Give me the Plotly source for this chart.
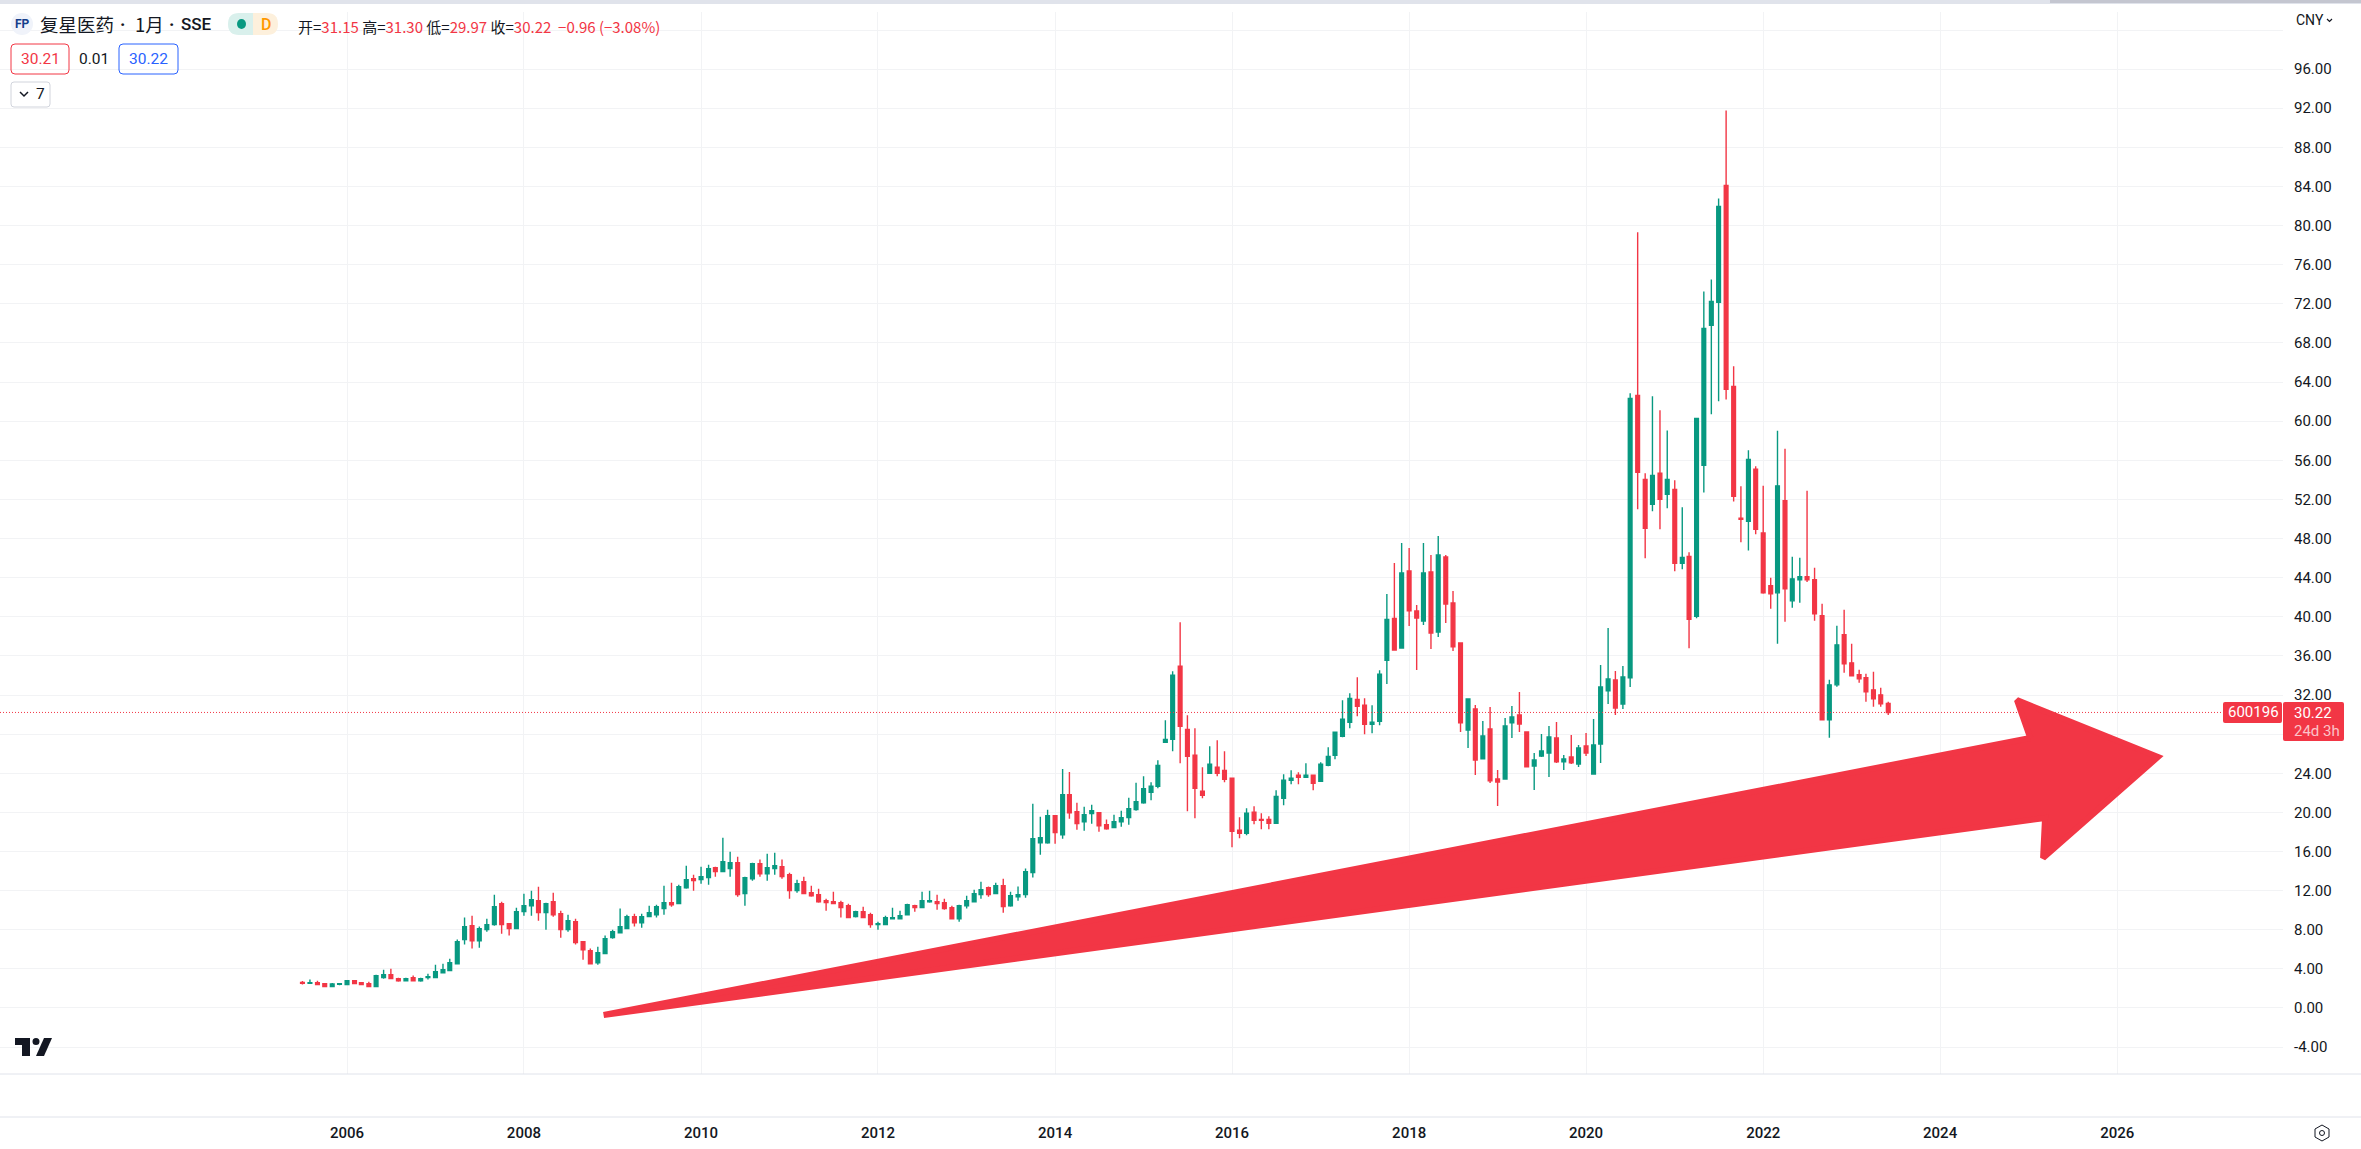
import pandas as pd
import plotly.graph_objects as go

# Monthly bars, Jul 2005 .. Jun 2023
months = pd.date_range("2005-07-01", periods=216, freq="MS")
open_ = [
 2.62,2.52,2.59,2.49,2.18,2.42,2.39,2.79,2.59,2.49,2.18,3.10,
 3.41,3.00,2.79,3.10,2.79,3.10,3.10,3.61,3.82,4.53,6.99,8.42,
 6.88,8.01,8.52,10.67,8.62,8.11,9.85,10.46,10.97,9.75,10.87,9.64,
 8.01,8.83,6.78,5.86,4.63,5.56,7.19,7.70,8.11,9.34,8.72,9.34,
 9.54,10.16,10.77,10.67,12.30,13.22,13.12,13.33,14.35,13.94,14.25,14.86,
 11.69,13.22,14.76,13.73,14.25,14.45,13.63,12.00,12.92,11.79,11.59,10.97,
 10.87,10.77,10.46,9.34,9.85,9.54,8.52,8.52,9.13,9.13,9.54,10.46,
 10.26,10.87,10.87,10.77,10.26,9.13,10.46,10.87,11.59,12.30,11.69,12.51,
 10.46,11.38,11.59,13.84,16.90,16.90,19.66,17.72,21.81,20.07,19.05,19.87,
 19.97,18.74,18.44,19.05,19.46,20.28,20.99,22.05,22.67,27.17,27.47,34.94,
 28.49,25.84,22.16,24.00,24.61,24.30,23.49,18.17,17.86,20.01,19.29,19.29,
 18.88,21.44,23.28,23.79,23.59,23.79,23.18,24.81,25.84,27.78,29.21,31.56,
 30.95,29.01,29.31,35.55,39.84,36.81,44.69,40.60,39.57,44.58,38.45,46.12,
 41.41,37.33,28.43,30.58,25.47,28.53,23.42,23.42,29.15,29.96,28.23,24.75,
 25.77,26.08,27.61,25.16,25.67,24.95,26.79,23.93,27.00,32.42,33.54,31.09,
 33.75,62.64,54.05,51.50,54.67,52.52,53.03,45.47,46.18,40.05,55.49,69.80,
 72.15,84.11,63.56,50.07,49.76,55.08,48.58,43.17,42.45,51.86,41.63,43.78,
 44.09,43.78,40.10,29.47,33.04,38.16,35.29,34.07,33.76,32.53,32.02,31.15,
]
high = [
 2.76,2.90,2.79,2.56,2.56,2.49,2.79,2.79,2.59,2.69,3.41,3.92,
 4.02,3.10,3.10,3.31,3.10,3.51,4.43,4.53,5.04,6.99,9.24,9.44,
 8.32,9.13,11.59,10.87,8.62,10.26,11.69,12.00,12.40,10.77,11.79,9.95,
 9.54,9.13,6.78,6.07,6.27,7.40,8.01,10.16,9.54,9.64,9.64,10.46,
 10.56,12.51,12.81,12.61,14.55,13.63,14.45,14.65,14.45,17.41,15.98,15.47,
 13.43,14.86,15.17,15.78,15.88,15.17,13.84,13.12,13.43,12.51,12.20,11.18,
 11.89,10.97,10.67,9.95,10.36,9.75,8.83,9.44,10.26,9.95,10.67,10.56,
 11.89,12.00,11.59,11.18,10.46,10.56,11.48,12.10,12.92,12.41,12.81,13.22,
 11.89,12.41,14.25,20.89,19.56,20.28,19.66,24.44,24.14,20.99,20.58,20.79,
 19.97,19.26,19.77,20.18,21.50,23.04,23.69,23.08,25.33,29.41,34.42,39.43,
 29.93,28.60,24.61,26.76,27.37,26.25,23.49,19.50,20.42,20.62,19.91,19.60,
 22.26,23.89,24.30,24.10,25.02,23.79,25.12,26.65,28.19,31.46,32.18,33.81,
 31.66,30.95,34.53,42.33,45.50,47.55,47.04,41.21,47.55,46.32,48.26,46.32,
 42.64,37.33,31.60,30.99,29.35,30.78,24.34,29.66,30.88,32.32,28.23,26.08,
 28.02,28.84,29.25,25.87,27.92,26.90,28.12,29.56,35.08,38.86,34.46,34.97,
 62.85,79.31,54.67,62.54,61.11,59.06,53.95,51.19,46.59,60.29,73.27,74.50,
 82.78,91.78,65.61,53.34,57.02,55.38,53.39,43.98,59.01,57.17,46.13,46.03,
 52.88,45.01,41.33,33.56,39.08,40.71,37.24,34.58,34.17,34.37,32.74,31.30,
]
low = [
 2.39,2.49,2.39,2.18,2.18,2.32,2.39,2.49,2.39,2.18,2.18,3.00,
 3.00,2.69,2.79,2.79,2.69,2.90,3.10,3.61,3.82,4.53,6.48,6.07,
 6.17,7.80,8.42,7.60,7.40,8.11,9.44,9.44,8.93,8.01,9.34,7.19,
 7.80,6.48,4.94,4.53,4.43,5.56,7.09,7.70,8.11,8.32,8.21,9.34,
 9.24,9.54,10.36,10.67,12.20,12.00,12.71,12.61,13.43,13.94,13.43,11.38,
 10.46,13.02,13.43,13.02,13.63,13.22,11.18,11.79,11.69,11.38,10.77,9.95,
 10.67,9.24,9.24,9.24,9.24,8.21,8.01,8.52,9.13,9.13,9.54,9.85,
 10.26,10.77,10.05,10.05,9.13,8.83,10.16,10.87,11.18,11.38,11.69,9.75,
 10.36,10.97,11.28,13.33,15.68,16.80,16.80,17.31,19.36,18.23,18.13,18.85,
 18.03,18.23,18.44,18.54,18.74,20.18,20.89,21.24,22.46,27.17,26.25,25.02,
 20.11,19.40,21.44,24.00,23.69,23.08,16.43,17.35,17.66,18.78,18.27,18.27,
 18.88,20.72,22.87,22.87,23.59,22.26,23.18,24.71,25.43,27.68,28.60,29.82,
 27.98,28.09,28.90,33.13,36.61,36.81,39.06,34.56,39.17,36.71,37.94,39.37,
 36.51,28.23,26.59,23.83,25.47,23.01,20.66,23.42,27.61,28.23,24.65,22.30,
 25.67,23.63,25.06,24.34,24.95,24.65,25.77,23.93,25.06,31.09,29.96,30.58,
 32.83,50.99,45.98,50.78,48.94,51.09,44.65,44.85,36.78,39.84,52.72,60.70,
 62.03,62.23,51.80,47.61,46.79,48.43,42.35,40.81,37.24,39.49,40.92,41.43,
 43.57,39.59,29.47,27.63,32.84,34.27,33.96,33.25,31.31,30.79,30.79,29.97,
]
close = [
 2.52,2.59,2.39,2.18,2.45,2.49,2.79,2.49,2.39,2.18,3.31,3.41,
 3.00,2.79,3.00,2.79,3.00,3.20,3.71,3.92,4.63,6.78,8.32,6.88,
 8.11,8.52,10.36,8.52,8.11,9.85,10.46,11.08,9.75,10.67,9.54,8.01,
 8.93,6.68,5.96,4.53,5.66,7.09,7.80,8.32,9.34,8.72,9.34,9.75,
 10.36,10.77,10.56,12.40,13.12,13.02,13.43,14.25,13.94,14.96,14.86,11.59,
 13.33,14.76,13.73,14.35,14.55,13.43,12.00,12.71,11.69,11.48,10.87,10.77,
 10.67,10.26,9.24,9.85,9.24,8.52,8.62,9.24,9.24,9.44,10.56,10.26,
 10.97,10.97,10.67,10.16,9.13,10.46,10.97,11.69,12.10,11.59,12.51,10.36,
 11.48,11.59,13.94,17.31,17.41,19.66,17.93,21.81,19.97,18.85,19.77,20.18,
 18.64,18.33,19.05,19.46,20.38,21.10,22.42,22.67,24.81,27.47,34.02,28.80,
 25.73,22.46,21.75,24.92,24.00,23.38,18.07,17.86,19.91,19.19,19.19,18.88,
 21.64,23.28,23.49,23.59,23.79,22.97,24.92,25.73,28.19,29.52,31.66,30.85,
 29.01,29.21,34.12,39.74,36.61,44.48,40.60,39.88,44.48,38.35,46.32,41.31,
 36.92,29.15,31.60,25.36,27.82,23.22,23.11,28.84,29.76,29.04,24.65,25.36,
 26.28,27.71,25.16,25.47,25.06,26.59,26.08,26.90,32.83,33.64,30.68,33.85,
 62.33,54.77,49.04,54.46,52.01,54.05,45.47,46.08,39.74,60.29,69.49,72.25,
 81.97,63.26,52.32,49.96,56.10,48.94,42.45,42.35,53.39,42.86,43.88,44.09,
 43.78,40.30,29.47,33.04,37.13,35.19,33.96,33.66,32.33,31.61,31.10,30.22,
]

y_ticks = list(range(-4, 104, 4))
# 28.00 sits behind the price badge and 100.00 behind the currency label in the reference
y_labels = ["" if v in (28, 100) else f"{v:.2f}" for v in y_ticks]
year_ticks = [f"{y}-01-01" for y in range(2006, 2028, 2)]
year_labels = [str(y) for y in range(2006, 2028, 2)]

# Hand-drawn arrow overlay, in date / price terms
arrow_dates = ["2025-01-07", "2024-11-13", "2026-06-18", "2025-03-01", "2025-03-09", "2008-11-25", "2025-01-07"]
arrow_prices = [27.61, 31.49, 25.66, 15.34, 19.43, -0.72, 27.61]

last_price = 30.22
RED, GREEN, INK = "#f23645", "#089981", "#131722"
W, H = 2361, 1149
L, T, R, B = 0, 12, 2283, 1074

def fx(x): return (x - L) / (R - L)
def fy(y): return 1 - (y - T) / (B - T)

def rr(x0, y0, x1, y1, r):
    a, b, c, d = fx(x0), fy(y0), fx(x1), fy(y1)
    rx, ry = r / (R - L), r / (B - T)
    return (f"M{a+rx},{b} L{c-rx},{b} Q{c},{b} {c},{b-ry} L{c},{d+ry} Q{c},{d} {c-rx},{d} "
            f"L{a+rx},{d} Q{a},{d} {a},{d+ry} L{a},{b-ry} Q{a},{b} {a+rx},{b} Z")

def poly(points):
    return "M" + " L".join(f"{fx(x)},{fy(y)}" for x, y in points) + " Z"

def pshape(path, fill="rgba(0,0,0,0)", line=None, width=1):
    return dict(type="path", path=path, xref="paper", yref="paper", fillcolor=fill, layer="above",
                line=dict(color=line or "rgba(0,0,0,0)", width=width if line else 0))

def note(x, y, text, size, color=INK, anchor="left", family="Roboto", weight=None):
    font = dict(size=size, color=color, family=family)
    if weight:
        font["weight"] = weight
    return dict(xref="paper", yref="paper", x=fx(x), y=fy(y), text=text, showarrow=False,
                xanchor=anchor, yanchor="middle", font=font, borderpad=0)

def span(text, color):
    return f'<span style="color:{color}">{text}</span>'

fig = go.Figure()
fig.add_trace(go.Candlestick(
    x=months, open=open_, high=high, low=low, close=close, whiskerwidth=0,
    increasing=dict(line=dict(color=GREEN, width=1.4), fillcolor=GREEN),
    decreasing=dict(line=dict(color=RED, width=1.4), fillcolor=RED),
    hoverinfo="skip", showlegend=False))
fig.add_trace(go.Scatter(
    x=["2002-01-30", "2027-11-16"], y=[last_price, last_price], mode="lines",
    line=dict(color=RED, width=1, dash="1px,2px"), hoverinfo="skip", showlegend=False))
fig.add_trace(go.Scatter(
    x=arrow_dates, y=arrow_prices, mode="lines", fill="toself", fillcolor=RED,
    line=dict(color=RED, width=6), hoverinfo="skip", showlegend=False))

shapes = [
    # top band
    pshape(poly([(0, 0), (W, 0), (W, 4), (0, 4)]), fill="#e0e3eb"),
    pshape(poly([(2050, 0), (W, 0), (W, 3), (2050, 3)]), fill="#c4c6d0"),
    # pane separators
    dict(type="line", xref="paper", yref="paper", x0=0, x1=fx(W), y0=fy(1074), y1=fy(1074), layer="above",
         line=dict(color="#e0e3eb", width=1)),
    dict(type="line", xref="paper", yref="paper", x0=0, x1=fx(W), y0=fy(1117), y1=fy(1117), layer="above",
         line=dict(color="#e0e3eb", width=1)),
    # symbol logo and status pill
    dict(type="circle", xref="paper", yref="paper", x0=fx(11), x1=fx(33), y0=fy(35), y1=fy(13), layer="above",
         fillcolor="#f0f3fa", line=dict(width=0)),
    pshape(rr(228, 13, 264, 35, 11), fill="#d9f0ec"),
    pshape(rr(242, 13, 278, 35, 11), fill="#fdf0dc"),
    pshape(poly([(239, 13), (253, 13), (253, 35), (239, 35)]), fill="#d9f0ec"),
    dict(type="circle", xref="paper", yref="paper", x0=fx(237), x1=fx(246), y0=fy(29), y1=fy(19), layer="above",
         fillcolor=GREEN, line=dict(width=0)),
    # bid / ask / collapse boxes
    pshape(rr(11, 44, 69, 74, 4), line=RED),
    pshape(rr(119, 44, 178, 74, 4), line="#2962ff"),
    pshape(rr(11, 82, 50, 107, 3), line="#d1d4dc"),
    dict(type="path", xref="paper", yref="paper", layer="above",
         path=f"M{fx(20)},{fy(92)} L{fx(24)},{fy(96)} L{fx(28)},{fy(92)}", line=dict(color=INK, width=1.5)),
    dict(type="path", xref="paper", yref="paper", layer="above",
         path=f"M{fx(2327)},{fy(19)} L{fx(2329.5)},{fy(21.5)} L{fx(2332)},{fy(19)}", line=dict(color=INK, width=1.2)),
    # price badges
    pshape(rr(2223, 702, 2282, 723, 2), fill=RED),
    pshape(rr(2283, 702, 2344, 741, 2), fill=RED),
    # watermark
    pshape(poly([(15, 1038), (30, 1038), (30, 1056), (22, 1056), (22, 1045), (15, 1045)]), fill=INK),
    pshape(poly([(44, 1038), (52, 1038), (44, 1056), (36, 1056)]), fill=INK),
    dict(type="circle", xref="paper", yref="paper", x0=fx(32.5), x1=fx(39.5), y0=fy(1045), y1=fy(1038), layer="above",
         fillcolor=INK, line=dict(width=0)),
    # settings gear
    pshape(poly([(2322, 1125), (2329, 1129), (2329, 1137), (2322, 1141), (2315, 1137), (2315, 1129)]), line=INK),
    dict(type="circle", xref="paper", yref="paper", x0=fx(2319.5), x1=fx(2324.5), y0=fy(1135.5), y1=fy(1130.5),
         layer="above", line=dict(color=INK, width=1)),
]

ohlc_text = ("开=" + span("31.15", RED) + " 高=" + span("31.30", RED) + " 低=" + span("29.97", RED)
             + " 收=" + span("30.22", RED) + "  " + span("−0.96 (−3.08%)", RED))
CJK = "Noto Sans CJK SC"
annotations = [
    note(22, 24, "FP", 12, "#153e8a", "center", weight=700),
    note(39, 24, "复星医药", 18.5, INK, family=CJK),
    note(122, 24, "·", 18, INK, "center", weight=700),
    note(134, 24, "1月", 18.5, INK, family=CJK),
    note(171, 24, "·", 18, INK, "center", weight=700),
    note(180, 24, "SSE", 17, INK, weight=500),
    note(265.5, 24, "D", 16, "#ff9800", "center", weight=500),
    note(297, 26, ohlc_text, 15, INK, family=CJK),
    note(40, 59, "30.21", 15.5, RED, "center"),
    note(94, 59, "0.01", 15.5, INK, "center"),
    note(148.5, 59, "30.22", 15.5, "#2962ff", "center"),
    note(40, 94.5, "7", 15.5, INK, "center"),
    note(2295, 20, "CNY", 14, INK),
    note(2253, 712.5, "600196", 15, "#ffffff", "center"),
    note(2293, 713, "30.22", 15, "#ffffff"),
    note(2293, 731, "24d 3h", 15, "#fbc3c8"),
]

fig.update_layout(
    width=W, height=H, autosize=False, showlegend=False,
    margin=dict(l=L, r=W - R, t=T, b=H - B, autoexpand=False),
    paper_bgcolor="#ffffff", plot_bgcolor="#ffffff",
    boxgap=0.455, boxgroupgap=0, hovermode=False, dragmode=False,
    shapes=shapes, annotations=annotations,
    xaxis=dict(
        type="date", range=["2002-01-30", "2027-11-16"], tickmode="array", tickvals=year_ticks, ticktext=year_labels,
        showgrid=True, gridcolor="#f2f3f5", gridwidth=1, ticks="", showline=False, zeroline=False,
        rangeslider=dict(visible=False), ticklabelstandoff=48,
        tickfont=dict(family="Roboto", size=15, color=INK, weight=500)),
    yaxis=dict(
        side="right", range=[-6.75, 101.84], tickmode="array", tickvals=y_ticks, ticktext=y_labels,
        showgrid=True, gridcolor="#f2f3f5", gridwidth=1, ticks="", showline=False, zeroline=False,
        ticklabelstandoff=10, tickfont=dict(family="Roboto", size=15, color=INK)),
)

fig.write_html("out.html", config={"displayModeBar": False, "staticPlot": True},
               post_script="document.body.style.margin='0';document.body.style.overflow='hidden';")
